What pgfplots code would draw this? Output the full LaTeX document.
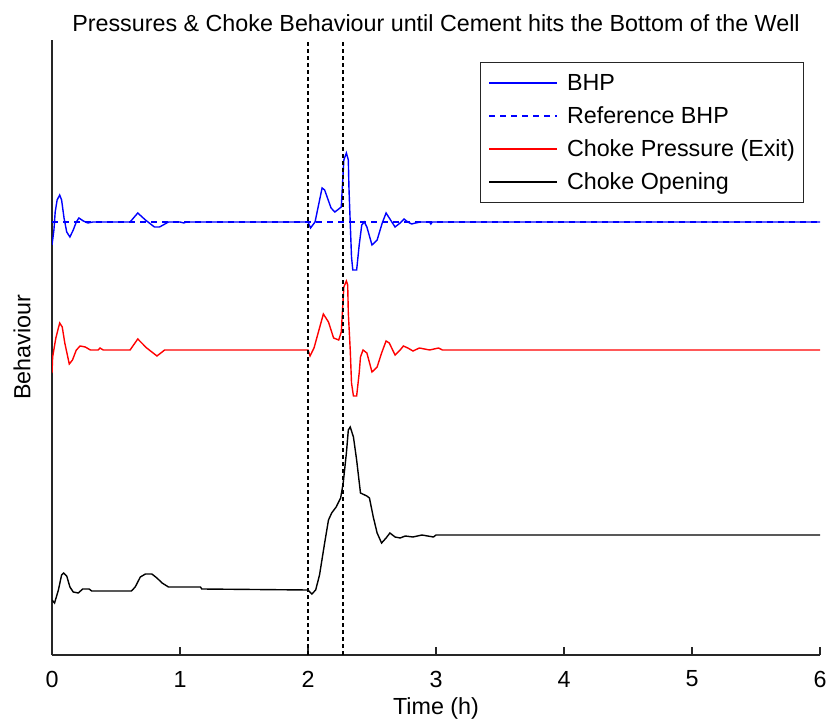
\documentclass[border=0pt]{standalone}
\usepackage{fontspec}
\setmainfont{Liberation Sans}
\usepackage{pgfplots}
\pgfplotsset{compat=1.18}

\newcommand\chartfont{\fontsize{23.3bp}{27bp}\selectfont}

% Bottom-hole pressure
\pgfplotstableread{
x y
0 410
0.015 425
0.025 443
0.04 455
0.06 460
0.075 455
0.094 437
0.115 423
0.14 418
0.166 425
0.19 433
0.21 437
0.245 434
0.28 432
0.32 433
0.61 433
0.67 442
0.73 435
0.80 428
0.84 428
0.91 433
1.0 433
1.03 432
1.05 433
2.0 433
2.02 427
2.055 433
2.11 467
2.13 465
2.18 447
2.21 443
2.26 448
2.28 495
2.30 502
2.315 495
2.32 467
2.33 432
2.34 398
2.35 385
2.38 385
2.40 410
2.42 430
2.44 433
2.46 428
2.50 410
2.54 415
2.58 432
2.61 442
2.635 437
2.68 428
2.72 432
2.75 436
2.78 433
2.81 431
2.84 432
2.88 433
2.95 433
2.96 431
2.97 433
6 433
}\bhp

% Reference bottom-hole pressure
\pgfplotstableread{
x y
0 433
6 433
}\refbhp

% Choke pressure at the exit
\pgfplotstableread{
x y
0 282
0.005 298
0.03 317
0.06 332
0.08 328
0.10 312
0.135 291
0.16 295
0.19 305
0.22 309
0.26 308
0.30 305
0.36 305
0.375 307
0.40 305
0.61 305
0.67 316
0.74 307
0.82 299
0.88 305
2.0 305
2.016 299
2.047 307
2.12 341
2.16 333
2.20 317
2.24 315
2.26 323
2.28 368
2.30 374
2.31 370
2.315 342
2.33 305
2.34 272
2.355 259
2.38 259
2.40 282
2.41 298
2.43 305
2.46 302
2.50 283
2.54 288
2.575 302
2.61 314
2.635 312
2.68 300
2.72 305
2.745 309
2.78 307
2.82 304
2.87 307
2.95 305
3.02 307
3.05 305
6 305
}\chokep

% Choke opening
\pgfplotstableread{
x y
0 55
0.02 52
0.05 65
0.075 80
0.09 82
0.115 79
0.14 68
0.166 63
0.205 62
0.24 66
0.29 66
0.31 64
0.62 64
0.65 68
0.69 78
0.73 81
0.78 81
0.82 77
0.86 72
0.91 68
1.16 68
1.17 66
2.0 65
2.03 61
2.06 65
2.09 80
2.13 112
2.16 135
2.185 142
2.22 148
2.255 157
2.275 172
2.30 202
2.315 225
2.33 228
2.355 218
2.38 195
2.41 162
2.46 159
2.48 157
2.51 138
2.54 122
2.575 112
2.61 117
2.64 122
2.68 118
2.72 117
2.76 119
2.82 118
2.89 120
2.98 118
3.0 120
6 120
}\chokeo

\begin{document}
\begin{tikzpicture}
\begin{axis}[
  scale only axis,
  width=768bp, height=615bp,
  xmin=0, xmax=6, ymin=0, ymax=615,
  axis lines*=left,
  axis line style={line width=1.2bp, black!85},
  xtick={0,1,...,6}, ytick=\empty,
  tick align=inside,
  major tick length=8bp,
  tick style={line width=1.2bp, black!85},
  /pgf/number format/assume math mode=true,
  ticklabel style={font=\chartfont},
  xticklabel style={anchor=center, yshift=-24bp},
  title={Pressures \& Choke Behaviour until Cement hits the Bottom of the Well},
  title style={font=\chartfont, at={(0.5,1)}, anchor=center, yshift=11bp},
  xlabel={Time (h)},
  xlabel style={font=\chartfont, at={(0.5,0)}, anchor=center, yshift=-53bp},
  legend style={name=leg, font=\chartfont, at={(0.978,0.964)}, anchor=north east,
    draw=none, inner xsep=8bp, inner ysep=9bp,
    row sep=10bp, column sep=9bp,
    nodes={inner sep=0pt, text height=19bp, text depth=4bp}},
  legend cell align=left,
  legend image code/.code={\draw[#1] (0bp,0bp) -- (68bp,0bp);},
  every axis plot/.append style={line width=1.4bp},
]
\addplot[color=blue, no markers] table {\bhp};
\addlegendentry{BHP}
\addplot[color=blue, dash pattern=on 6bp off 5bp, no markers] table {\refbhp};
\addlegendentry{Reference BHP}
\addplot[color=red, no markers] table {\chokep};
\addlegendentry{Choke Pressure (Exit)}
\addplot[color=black, no markers] table {\chokeo};
\addlegendentry{Choke Opening}
% event markers
\addplot[color=black, dash pattern=on 4bp off 3bp, line width=1.2bp, forget plot] coordinates {(2,0) (2,615)};
\addplot[color=black, dash pattern=on 4bp off 3bp, line width=1.2bp, forget plot] coordinates {(2.273,0) (2.273,615)};
\end{axis}
\draw[black!85, line width=1.2bp] (leg.south west) rectangle (leg.north east);
\node[rotate=90, font=\chartfont, anchor=center] at ([xshift=-30bp]current axis.west) {Behaviour};
\pgfresetboundingbox
\path (current axis.south west) ++(-52bp,-65bp) rectangle ++(828bp,720bp);
\end{tikzpicture}
\end{document}
